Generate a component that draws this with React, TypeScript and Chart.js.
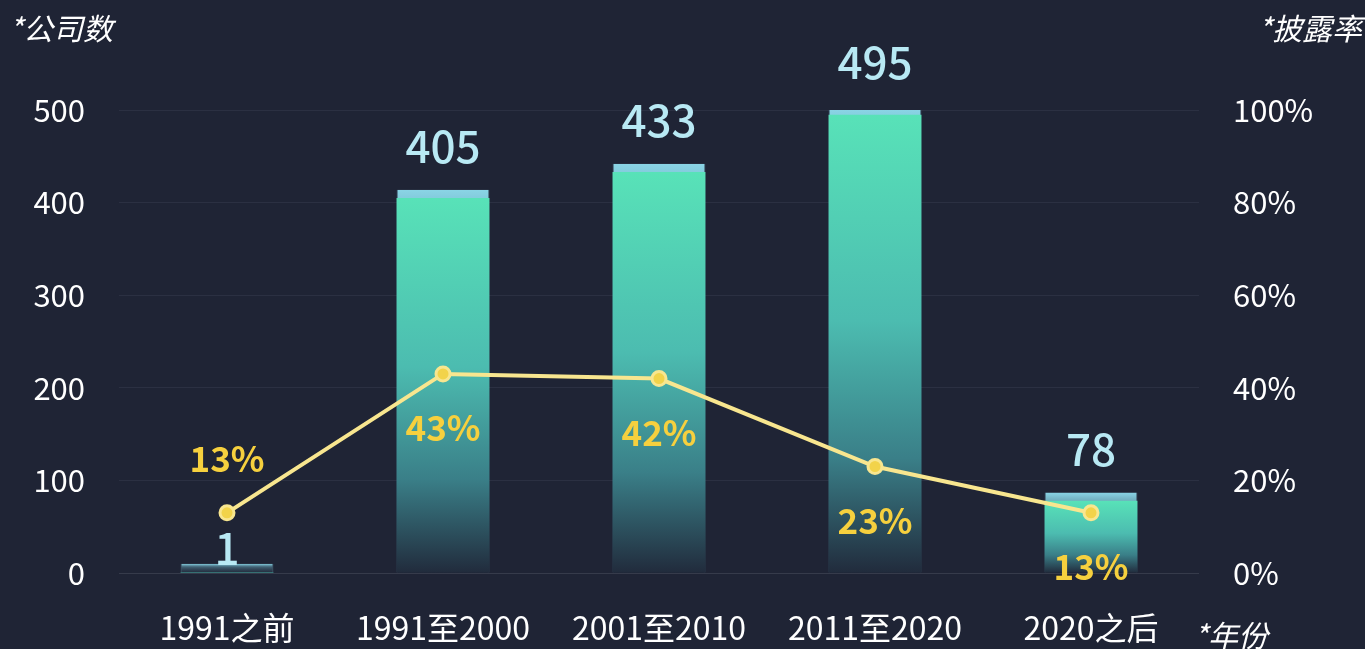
import React, { useEffect, useRef } from "react";
import { Chart, registerables } from "chart.js";

Chart.register(...registerables);

const categories = ["1991之前", "1991至2000", "2001至2010", "2011至2020", "2020之后"];
const companyCounts = [1, 405, 433, 495, 78];
const capTops = [10, 414, 442, 501, 87];
const disclosureRates = [13, 43, 42, 23, 13];
const countMax = 500;
const countStep = 100;
const rateMax = 100;
const rateStep = 20;
const leftTitle = "*公司数";
const rightTitle = "*披露率";
const xTitle = "*年份";

const FONT = "'Noto Sans CJK SC', 'Noto Sans', sans-serif";
const BG = "#1f2435";

// label placement styling (offsets in px from the mark)
const barLabelGap = [24, 52, 52, 52, 51];
const rateLabelSide = [-1, 1, 1, 1, 1];

function barGradient(ctx: any, stops: [number, string][]) {
  const chart = ctx.chart;
  const { chartArea, scales } = chart;
  if (!chartArea || ctx.type !== "data") return stops[0][1];
  const raw = ctx.raw as number;
  const top = scales.y.getPixelForValue(raw);
  const bottom = scales.y.getPixelForValue(0);
  if (!isFinite(top) || !isFinite(bottom) || bottom - top < 0.5) return stops[0][1];
  const g = chart.ctx.createLinearGradient(0, top, 0, bottom);
  stops.forEach(([o, c]) => g.addColorStop(o, c));
  return g;
}

const labelsPlugin = {
  id: "customLabels",
  afterDatasetsDraw(chart: any) {
    const ctx = chart.ctx as CanvasRenderingContext2D;
    const barMeta = chart.getDatasetMeta(1);
    const lineMeta = chart.getDatasetMeta(0);
    ctx.save();
    ctx.textAlign = "center";
    ctx.textBaseline = "middle";
    ctx.font = `500 44px ${FONT}`;
    ctx.fillStyle = "#b8e9f4";
    barMeta.data.forEach((el: any, i: number) => {
      ctx.fillText(String(companyCounts[i]), el.x, el.y - barLabelGap[i]);
    });
    ctx.font = `600 35px ${FONT}`;
    ctx.fillStyle = "#f6d03e";
    lineMeta.data.forEach((el: any, i: number) => {
      ctx.fillText(disclosureRates[i] + "%", el.x, el.y + rateLabelSide[i] * 54);
    });
    ctx.restore();
  },
  afterDraw(chart: any) {
    const ctx = chart.ctx as CanvasRenderingContext2D;
    ctx.save();
    ctx.fillStyle = "#ffffff";
    ctx.font = `italic 30px ${FONT}`;
    ctx.textBaseline = "middle";
    ctx.textAlign = "left";
    ctx.fillText(leftTitle, 9, 29);
    ctx.textAlign = "right";
    ctx.fillText(rightTitle, 1362, 29);
    ctx.textAlign = "left";
    ctx.fillText(xTitle, 1194, 636);
    ctx.restore();
  },
};

export default function App() {
  const ref = useRef<HTMLCanvasElement | null>(null);

  useEffect(() => {
    document.body.style.margin = "0";
    document.body.style.background = BG;
    const canvas = ref.current;
    if (!canvas) return;
    const chart = new Chart(canvas, {
      data: {
        labels: categories,
        datasets: [
          {
            type: "line",
            label: "披露率",
            data: disclosureRates,
            yAxisID: "y1",
            order: 0,
            borderColor: "#f8e68f",
            borderWidth: 4,
            tension: 0,
            pointRadius: 7,
            pointBackgroundColor: "#f2d34a",
            pointBorderColor: "#f8e68f",
            pointBorderWidth: 3,
          } as any,
          {
            type: "bar",
            label: "公司数",
            data: companyCounts,
            yAxisID: "y",
            order: 1,
            grouped: false,
            barPercentage: 0.43,
            categoryPercentage: 1,
            backgroundColor: (c: any) =>
              barGradient(c, [
                [0, "#58e2b8"],
                [0.45, "#4cbcb0"],
                [0.75, "#3a7f88"],
                [1, "#212b3c"],
              ]),
          } as any,
          {
            type: "bar",
            label: "cap",
            data: capTops,
            yAxisID: "y",
            order: 2,
            grouped: false,
            barPercentage: 0.43,
            categoryPercentage: 1,
            backgroundColor: (c: any) =>
              barGradient(c, [
                [0, "#8ad5e6"],
                [0.35, "rgba(100,160,180,0.5)"],
                [1, "rgba(60,90,110,0.15)"],
              ]),
            borderColor: "rgba(110,160,180,0.45)",
            borderWidth: { left: 1, right: 1, top: 0, bottom: 0 },
          } as any,
        ],
      },
      options: {
        responsive: true,
        maintainAspectRatio: false,
        devicePixelRatio: 1,
        animation: false,
        layout: { padding: { top: 110, left: 0, right: 0, bottom: 0 } },
        plugins: {
          legend: { display: false },
          tooltip: { enabled: false },
        },
        scales: {
          x: {
            offset: true,
            grid: { display: false, drawTicks: false },
            border: { display: false },
            ticks: { color: "#ffffff", font: { family: FONT, size: 32 }, padding: 36 },
            afterFit: (s: any) => {
              s.height = 76;
            },
          },
          y: {
            position: "left",
            min: 0,
            max: countMax,
            ticks: {
              stepSize: countStep,
              color: "#ffffff",
              font: { family: FONT, size: 31 },
              padding: 34,
            },
            grid: {
              color: (c: any) => (c.index === 0 ? "#363b4b" : "#2b3042"),
              lineWidth: 1,
              drawTicks: false,
            },
            border: { display: false },
            afterFit: (s: any) => {
              s.width = 119;
            },
          },
          y1: {
            position: "right",
            min: 0,
            max: rateMax,
            ticks: {
              stepSize: rateStep,
              color: "#ffffff",
              font: { family: FONT, size: 31 },
              padding: 34,
              callback: (v: any) => v + "%",
            },
            grid: { display: false, drawTicks: false },
            border: { display: false },
            afterFit: (s: any) => {
              s.width = 166;
            },
          },
        },
      } as any,
      plugins: [labelsPlugin],
    });
    return () => chart.destroy();
  }, []);

  return (
    <div
      style={{
        position: "fixed",
        left: 0,
        top: 0,
        width: 1365,
        height: 649,
        background: BG,
      }}
    >
      <canvas ref={ref} />
    </div>
  );
}
